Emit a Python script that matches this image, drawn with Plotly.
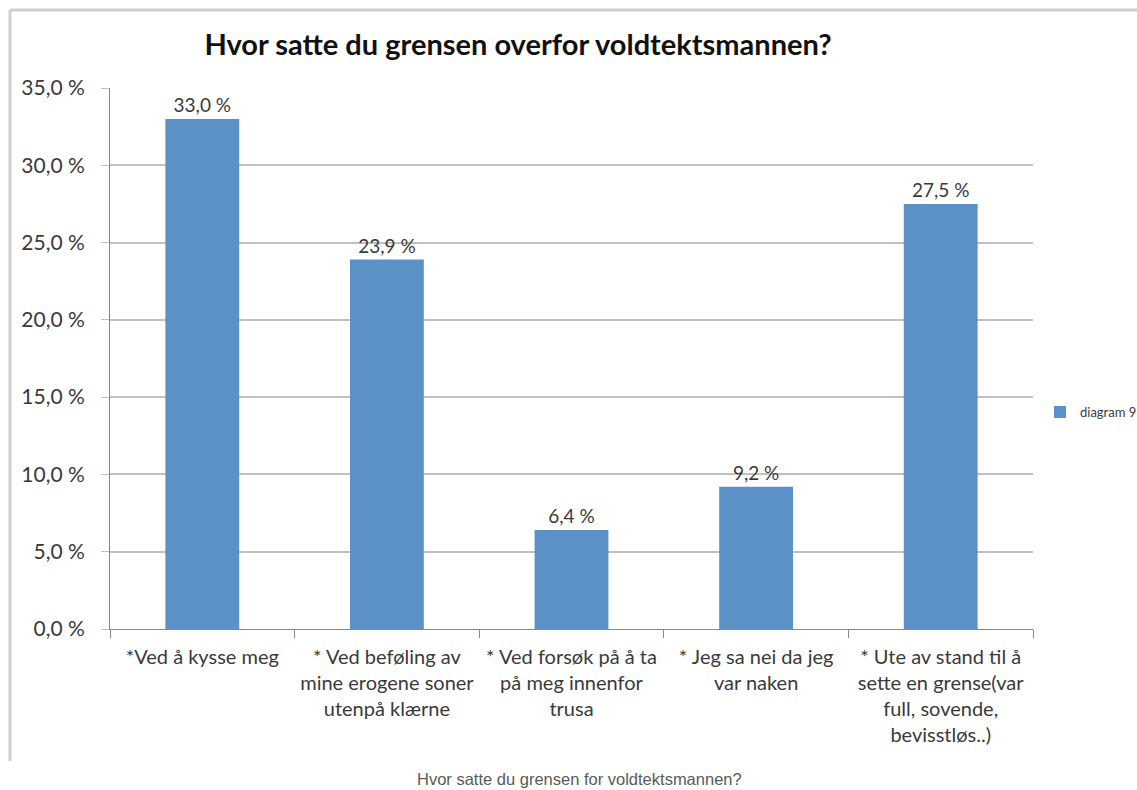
import plotly.graph_objects as go

# Survey answers: where the limit was set
categories = [
    "*Ved å kysse meg",
    "* Ved beføling av<br>mine erogene soner<br>utenpå klærne",
    "* Ved forsøk på å ta<br>på meg innenfor<br>trusa",
    "* Jeg sa nei da jeg<br>var naken",
    "* Ute av stand til å<br>sette en grense(var<br>full, sovende,<br>bevisstløs..)",
]
shares = [33.0, 23.9, 6.4, 9.2, 27.5]
y_ticks = [0, 5, 10, 15, 20, 25, 30, 35]

series_name = "diagram 9"
title_text = "Hvor satte du grensen overfor voldtektsmannen?"
caption_text = "Hvor satte du grensen for voldtektsmannen?"


def pct(v):
    return f"{v:.1f}".replace(".", ",") + " %"


W, H = 1137, 790
L, R, T, B = 110, 1033, 88, 629  # plot area in pixels
pw, ph = R - L, B - T


def px_x(x):
    return (x - L) / pw


def px_y(y):
    return (B - y) / ph


FONT = "Lato"
TXT = "#3a3a3a"
GRID = "#c0c0c0"

fig = go.Figure()
fig.add_trace(go.Bar(
    x=[f"c{i}" for i in range(len(categories))],
    y=shares,
    name=series_name,
    marker=dict(color="#5b91c6", line=dict(width=0)),
    width=0.4,
    text=[pct(v) for v in shares],
    textposition="outside",
    textfont=dict(family=FONT, size=19, color=TXT),
    cliponaxis=False,
    showlegend=True,
))

fig.update_layout(
    width=W, height=H,
    margin=dict(l=L, r=W - R, t=T, b=H - B, autoexpand=False),
    paper_bgcolor="white", plot_bgcolor="white",
    font=dict(family=FONT, color=TXT),
    title=dict(
        text=f"<b>{title_text}</b>",
        x=518 / W, xanchor="center", y=1 - 45 / H, yanchor="middle",
        font=dict(family=FONT, size=29, color="#111111"),
    ),
    bargap=0.6,
    legend=dict(
        x=px_x(1040), y=px_y(412), xanchor="left", yanchor="middle",
        font=dict(family=FONT, size=13, color=TXT),
        bgcolor="rgba(0,0,0,0)", itemwidth=30,
    ),
    xaxis=dict(
        tickmode="array",
        tickvals=[f"c{i}" for i in range(len(categories))],
        ticktext=categories,
        tickson="boundaries",
        ticks="outside", ticklen=8, tickcolor="#888888",
        ticklabelstandoff=10,
        showline=True, linecolor="#888888", linewidth=1,
        tickfont=dict(family=FONT, size=20, color=TXT),
        showgrid=False,
    ),
    yaxis=dict(
        range=[0, 35],
        tickmode="array",
        tickvals=y_ticks,
        ticktext=[pct(v) for v in y_ticks],
        ticks="outside", ticklen=8, tickcolor=GRID,
        ticklabelstandoff=12,
        showline=True, linecolor="#888888", linewidth=1,
        showgrid=True, gridcolor=GRID, gridwidth=1.5,
        tickfont=dict(family=FONT, size=21, color=TXT),
        zeroline=False,
    ),
    shapes=[
        # frame around the embedded chart
        dict(type="line", xref="paper", yref="paper",
             x0=px_x(10), x1=px_x(W), y0=px_y(10), y1=px_y(10),
             line=dict(color="#cfcfcf", width=3)),
        dict(type="line", xref="paper", yref="paper",
             x0=px_x(10), x1=px_x(10), y0=px_y(10), y1=px_y(761),
             line=dict(color="#cfcfcf", width=3)),
    ],
    annotations=[
        dict(text=caption_text, xref="paper", yref="paper",
             x=px_x(579), y=px_y(779), xanchor="center", yanchor="middle",
             showarrow=False,
             font=dict(family="Liberation Sans", size=16.5, color="#5a5a5a")),
    ],
)

fig.write_html("out.html")
